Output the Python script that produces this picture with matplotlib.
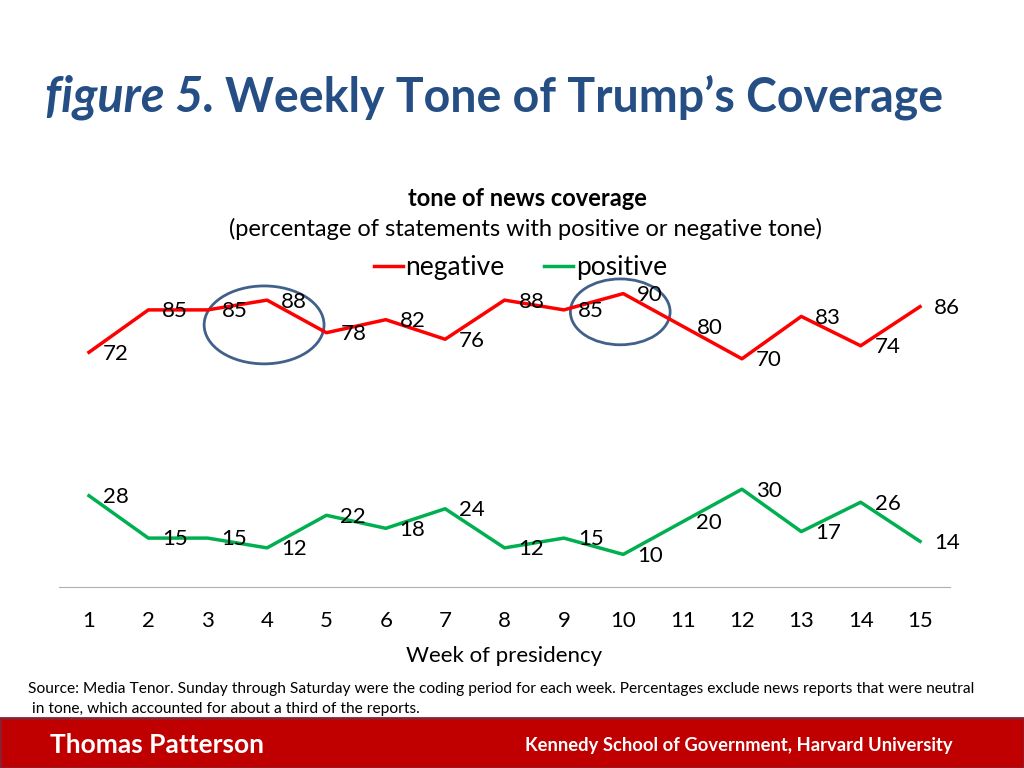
import matplotlib.pyplot as plt
from matplotlib.patches import Ellipse, Rectangle

weeks = list(range(1, 16))
negative = [72, 85, 85, 88, 78, 82, 76, 88, 85, 90, 80, 70, 83, 74, 86]
positive = [28, 15, 15, 12, 22, 18, 24, 12, 15, 10, 20, 30, 17, 26, 14]

plt.rcParams['font.family'] = ['Lato', 'DejaVu Sans']

fig = plt.figure(figsize=(10.24, 7.68), dpi=100)
W, H = 1024, 768

def fx(px):
    return px / W

def fy(py):
    return 1 - py / H

# title: italic part, then the rest right after it
title_blue = '#254f84'
t1 = fig.text(fx(45), fy(97), 'figure 5.', fontsize=35, fontweight='bold', fontstyle='italic',
              color=title_blue, va='center', ha='left')
fig.canvas.draw()
bb = t1.get_window_extent()
fig.text(fx(bb.x1 + 10), fy(97), 'Weekly Tone of Trump\u2019s Coverage', fontsize=33.5,
         fontweight='bold', color=title_blue, va='center', ha='left')

# chart titles
fig.text(0.515, fy(198), 'tone of news coverage', fontsize=17, fontweight='bold',
         ha='center', va='center')
fig.text(0.513, fy(229), '(percentage of statements with positive or negative tone)',
         fontsize=17, ha='center', va='center')

ax = fig.add_axes([fx(59.3), fy(587), fx(890.4), fy(261) - fy(587)])
l1, = ax.plot(weeks, negative, color='#ff0000', lw=2.5, label='negative')
l2, = ax.plot(weeks, positive, color='#00b050', lw=2.5, label='positive')

for w, v in zip(weeks, negative):
    ax.annotate(str(v), (w, v), xytext=(10, -1), textcoords='offset points',
                ha='left', va='center', fontsize=16)
for w, v in zip(weeks, positive):
    ax.annotate(str(v), (w, v), xytext=(10, -1), textcoords='offset points',
                ha='left', va='center', fontsize=16)

ax.set_xlim(0.5, 15.5)
ax.set_ylim(0, 100)
ax.set_xticks(weeks)
ax.tick_params(axis='x', length=0, pad=17, labelsize=16)
ax.set_yticks([])
for s in ['top', 'left', 'right']:
    ax.spines[s].set_visible(False)
ax.spines['bottom'].set_color('#b0b0b0')
ax.set_xlabel('Week of presidency', fontsize=16, labelpad=11)

# circles
ax.add_patch(Ellipse((3.95, 80.4), 2.02, 23.9, fill=False, ec='#41608a', lw=2, clip_on=False))
ax.add_patch(Ellipse((9.95, 84.4), 1.68, 20.2, fill=False, ec='#41608a', lw=2, clip_on=False))

fig.legend(handles=[l1, l2], loc='center', bbox_to_anchor=(0.508, fy(268)), ncol=2,
           frameon=False, fontsize=19, handlelength=1.1, handletextpad=0.1,
           columnspacing=1.5)

# source note
fig.text(fx(28), fy(689), 'Source: Media Tenor. Sunday through Saturday were the coding period for each week. '
         'Percentages exclude news reports that were neutral', fontsize=11.2, va='center', ha='left')
fig.text(fx(32), fy(709), 'in tone, which accounted for about a third of the reports.',
         fontsize=11.2, va='center', ha='left')

# footer band
fig.patches.append(Rectangle((0, 0), 1, fy(718), transform=fig.transFigure,
                             facecolor='#c00000', edgecolor='#8a2030', lw=2))
fig.text(fx(50), fy(745), 'Thomas Patterson', fontsize=19, fontweight='bold', color='white',
         va='center', ha='left')
fig.text(fx(525), fy(746), 'Kennedy School of Government, Harvard University', fontsize=13.2,
         fontweight='bold', color='white', va='center', ha='left')

fig.savefig('out.png', dpi=100)
